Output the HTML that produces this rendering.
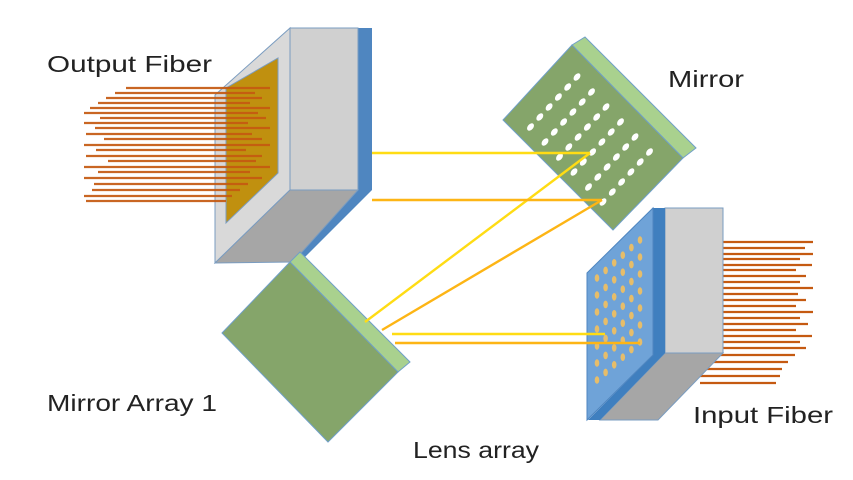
<!DOCTYPE html>
<html><head><meta charset="utf-8"><style>
html,body{margin:0;padding:0;background:#fff;}
svg{display:block;}
text{font-family:"Liberation Sans",sans-serif;fill:#222;font-size:23px;}
</style></head><body>
<svg width="853" height="480" viewBox="0 0 853 480" xmlns="http://www.w3.org/2000/svg">
<defs>
<g id="mrow">
<ellipse cx="0" cy="0" rx="2.8" ry="4.2" transform="rotate(40 0 0)" fill="#fff"/>
<ellipse cx="14.5" cy="15" rx="2.8" ry="4.2" transform="rotate(40 14.5 15)" fill="#fff"/>
<ellipse cx="29" cy="30" rx="2.8" ry="4.2" transform="rotate(40 29 30)" fill="#fff"/>
<ellipse cx="43.5" cy="45" rx="2.8" ry="4.2" transform="rotate(40 43.5 45)" fill="#fff"/>
<ellipse cx="58" cy="60" rx="2.8" ry="4.2" transform="rotate(40 58 60)" fill="#fff"/>
<ellipse cx="72.5" cy="75" rx="2.8" ry="4.2" transform="rotate(40 72.5 75)" fill="#fff"/>
</g>
<g id="lcol">
<ellipse cx="0" cy="0" rx="2.3" ry="3.8" fill="#e6bd6a"/>
<ellipse cx="0" cy="17" rx="2.3" ry="3.8" fill="#e6bd6a"/>
<ellipse cx="0" cy="34" rx="2.3" ry="3.8" fill="#e6bd6a"/>
<ellipse cx="0" cy="51" rx="2.3" ry="3.8" fill="#e6bd6a"/>
<ellipse cx="0" cy="68" rx="2.3" ry="3.8" fill="#e6bd6a"/>
<ellipse cx="0" cy="85" rx="2.3" ry="3.8" fill="#e6bd6a"/>
<ellipse cx="0" cy="102" rx="2.3" ry="3.8" fill="#e6bd6a"/>
</g>
</defs>

<!-- Output fiber box -->
<polygon points="215,95 290,28 290,190 215,263" fill="#d9d9d9" stroke="#7a9cc0" stroke-width="1"/>
<polygon points="358,28 372,28 372,190 300,262 293,258 358,190" fill="#4f86c0"/>
<polygon points="290,28 358,28 358,190 290,190" fill="#d0d0d0" stroke="#7a9cc0" stroke-width="1"/>
<polygon points="215,263 290,190 358,190 293,262" fill="#a6a6a6" stroke="#7a9cc0" stroke-width="1"/>
<polygon points="226,88 278,58 278,173 226,223" fill="#c0900f" stroke="#7a9cc0" stroke-width="1"/>
<g stroke="#c55a11" stroke-width="2.2" opacity="0.92">
<line x1="126" y1="88" x2="270" y2="88"/>
<line x1="115" y1="93" x2="255" y2="93"/>
<line x1="106" y1="98" x2="262" y2="98"/>
<line x1="98" y1="103" x2="250" y2="103"/>
<line x1="90" y1="108" x2="270" y2="108"/>
<line x1="84" y1="113" x2="258" y2="113"/>
<line x1="100" y1="118" x2="266" y2="118"/>
<line x1="84" y1="123" x2="248" y2="123"/>
<line x1="95" y1="128" x2="270" y2="128"/>
<line x1="86" y1="134" x2="252" y2="134"/>
<line x1="104" y1="139" x2="262" y2="139"/>
<line x1="84" y1="145" x2="270" y2="145"/>
<line x1="96" y1="150" x2="246" y2="150"/>
<line x1="86" y1="156" x2="262" y2="156"/>
<line x1="108" y1="161" x2="256" y2="161"/>
<line x1="84" y1="167" x2="270" y2="167"/>
<line x1="98" y1="172" x2="250" y2="172"/>
<line x1="84" y1="178" x2="262" y2="178"/>
<line x1="94" y1="184" x2="248" y2="184"/>
<line x1="92" y1="190" x2="240" y2="190"/>
<line x1="84" y1="196" x2="232" y2="196"/>
<line x1="86" y1="201" x2="226" y2="201"/>
</g>

<!-- Mirror (top right) -->
<polygon points="572,45 585,37 696,148 683,158" fill="#a9d18e" stroke="#6f9fc8" stroke-width="1"/>
<polygon points="503,120 572,45 683,158 613,230" fill="#85a56a" stroke="#6f9fc8" stroke-width="1"/>
<use href="#mrow" x="577" y="77"/>
<use href="#mrow" x="567.7" y="87"/>
<use href="#mrow" x="558.4" y="97"/>
<use href="#mrow" x="549.1" y="107"/>
<use href="#mrow" x="539.8" y="117"/>
<use href="#mrow" x="530.5" y="127"/>

<!-- Input fiber box -->
<g stroke="#c55a11" stroke-width="2.2">
<line x1="700" y1="242" x2="813" y2="242"/>
<line x1="700" y1="248" x2="805" y2="248"/>
<line x1="700" y1="254" x2="813" y2="254"/>
<line x1="700" y1="259" x2="800" y2="259"/>
<line x1="700" y1="265" x2="812" y2="265"/>
<line x1="700" y1="270" x2="796" y2="270"/>
<line x1="700" y1="276" x2="806" y2="276"/>
<line x1="700" y1="282" x2="800" y2="282"/>
<line x1="700" y1="288" x2="813" y2="288"/>
<line x1="700" y1="294" x2="798" y2="294"/>
<line x1="700" y1="300" x2="806" y2="300"/>
<line x1="700" y1="306" x2="796" y2="306"/>
<line x1="700" y1="312" x2="813" y2="312"/>
<line x1="700" y1="318" x2="800" y2="318"/>
<line x1="700" y1="324" x2="808" y2="324"/>
<line x1="700" y1="330" x2="796" y2="330"/>
<line x1="700" y1="336" x2="812" y2="336"/>
<line x1="700" y1="342" x2="800" y2="342"/>
<line x1="700" y1="348" x2="806" y2="348"/>
<line x1="700" y1="355" x2="795" y2="355"/>
<line x1="700" y1="362" x2="788" y2="362"/>
<line x1="700" y1="369" x2="782" y2="369"/>
<line x1="700" y1="376" x2="780" y2="376"/>
<line x1="700" y1="383" x2="776" y2="383"/>
</g>
<polygon points="665,208 723,208 723,353 665,353" fill="#d0d0d0" stroke="#7a9cc0" stroke-width="1"/>
<polygon points="600,420 665,353 723,353 658,420" fill="#a6a6a6" stroke="#7a9cc0" stroke-width="1"/>
<polygon points="653,208 665,208 665,353 600,420 588,420 653,355" fill="#3f7fbf"/>
<polygon points="587,273 653,208 653,355 587,420" fill="#6fa3d8" stroke="#4f86c0" stroke-width="1"/>
<use href="#lcol" x="597" y="278"/>
<use href="#lcol" x="605.6" y="270.4"/>
<use href="#lcol" x="614.2" y="262.8"/>
<use href="#lcol" x="622.8" y="255.2"/>
<use href="#lcol" x="631.4" y="247.6"/>
<use href="#lcol" x="640" y="240"/>

<!-- Mirror array 1 -->
<polygon points="290,262 300,252 410,362 398,372" fill="#a9d18e" stroke="#6f9fc8" stroke-width="1"/>
<polygon points="222,333 290,262 398,372 328,442" fill="#85a56a" stroke="#6f9fc8" stroke-width="1"/>

<!-- Beams -->
<g stroke-width="2.4" fill="none">
<line x1="372" y1="153" x2="590" y2="153" stroke="#ffdc14"/>
<line x1="365" y1="322" x2="590" y2="153" stroke="#ffdc14"/>
<line x1="372" y1="200" x2="602" y2="200" stroke="#fdb515"/>
<line x1="382" y1="330" x2="602" y2="200" stroke="#fdb515"/>
<line x1="392" y1="334" x2="605" y2="334" stroke="#ffdc14"/>
<line x1="395" y1="343" x2="640" y2="343" stroke="#fdb515"/>
</g>

<!-- Labels -->
<text x="47" y="72" textLength="165" lengthAdjust="spacingAndGlyphs">Output Fiber</text>
<text x="668" y="87" textLength="76" lengthAdjust="spacingAndGlyphs">Mirror</text>
<text x="47" y="411" textLength="170" lengthAdjust="spacingAndGlyphs">Mirror Array 1</text>
<text x="413" y="458" textLength="126" lengthAdjust="spacingAndGlyphs">Lens array</text>
<text x="693" y="423" textLength="140" lengthAdjust="spacingAndGlyphs">Input Fiber</text>
</svg>
</body></html>
